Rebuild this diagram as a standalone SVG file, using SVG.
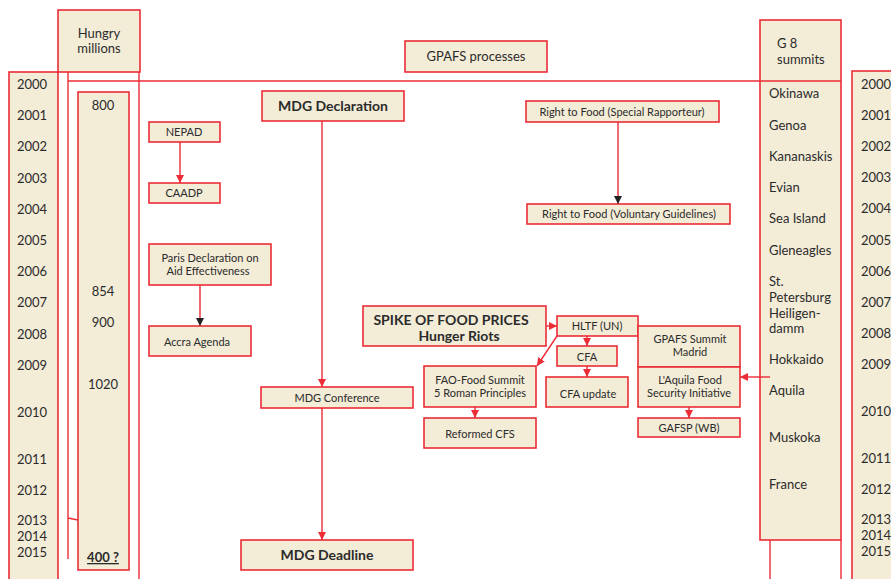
<svg xmlns="http://www.w3.org/2000/svg" width="891" height="579" viewBox="0 0 891 579">
<defs>
<style>
.b{fill:#F3ECD7;stroke:#EC2C36;stroke-width:1.6}
.l{fill:none;stroke:#EC2C36;stroke-width:1.4}
text{font-family:Lato,"Open Sans","Liberation Sans",sans-serif;fill:#2b2b2b;font-size:11px}
.y{font-size:13px}
.g{font-size:13px}
.h{font-size:13px}
.bd{font-weight:bold;font-size:14px}
.m{text-anchor:middle}
</style>
<marker id="ar" viewBox="0 0 10 10" refX="10" refY="5" markerWidth="8" markerHeight="8" markerUnits="userSpaceOnUse" orient="auto"><path d="M0,0L10,5L0,10z" fill="#EC2C36"/></marker>
<marker id="ak" viewBox="0 0 10 10" refX="10" refY="5" markerWidth="8" markerHeight="8" markerUnits="userSpaceOnUse" orient="auto"><path d="M0,0L10,5L0,10z" fill="#222"/></marker>
</defs>

<g id="frame">
<rect class="b" x="9" y="72" width="49" height="520"/>
<rect class="b" x="58" y="10" width="82" height="62"/>
<line class="l" x1="68" y1="72" x2="68" y2="559"/>
<line class="l" x1="139" y1="72" x2="139" y2="579"/>
<line class="l" x1="68" y1="81" x2="760" y2="81"/>
<line class="l" x1="68" y1="518" x2="78" y2="520"/>
<rect class="b" x="78" y="92" width="51" height="478"/>
<rect class="b" x="760" y="20" width="81" height="520"/>
<line class="l" x1="760" y1="81" x2="841" y2="81"/>
<line class="l" x1="770" y1="540" x2="770" y2="579"/>
<line class="l" x1="841" y1="540" x2="841" y2="579"/>
<rect class="b" x="852" y="71" width="50" height="520"/>
</g>

<g id="years-left" class="y">
<text class="y" x="17" y="89">2000</text>
<text class="y" x="17" y="120">2001</text>
<text class="y" x="17" y="151">2002</text>
<text class="y" x="17" y="183">2003</text>
<text class="y" x="17" y="214">2004</text>
<text class="y" x="17" y="245">2005</text>
<text class="y" x="17" y="276">2006</text>
<text class="y" x="17" y="307">2007</text>
<text class="y" x="17" y="339">2008</text>
<text class="y" x="17" y="370">2009</text>
<text class="y" x="17" y="417">2010</text>
<text class="y" x="17" y="464">2011</text>
<text class="y" x="17" y="495">2012</text>
<text class="y" x="17" y="525">2013</text>
<text class="y" x="17" y="541">2014</text>
<text class="y" x="17" y="557">2015</text>
</g>

<g id="years-right">
<text class="y" x="861" y="89">2000</text>
<text class="y" x="861" y="120">2001</text>
<text class="y" x="861" y="151">2002</text>
<text class="y" x="861" y="182">2003</text>
<text class="y" x="861" y="213">2004</text>
<text class="y" x="861" y="245">2005</text>
<text class="y" x="861" y="276">2006</text>
<text class="y" x="861" y="307">2007</text>
<text class="y" x="861" y="338">2008</text>
<text class="y" x="861" y="369">2009</text>
<text class="y" x="861" y="416">2010</text>
<text class="y" x="861" y="463">2011</text>
<text class="y" x="861" y="494">2012</text>
<text class="y" x="861" y="524">2013</text>
<text class="y" x="861" y="540">2014</text>
<text class="y" x="861" y="556">2015</text>
</g>

<g id="hungry">
<text class="h m" x="99" y="38">Hungry</text>
<text class="h m" x="99" y="53">millions</text>
<text class="y m" x="103" y="110">800</text>
<text class="y m" x="103" y="296">854</text>
<text class="y m" x="103" y="327">900</text>
<text class="y m" x="103" y="389">1020</text>
<text class="y m" x="103" y="562" font-weight="bold" text-decoration="underline">400 ?</text>
</g>

<g id="g8">
<text class="g" x="777" y="48">G 8</text>
<text class="g" x="777" y="64">summits</text>
<text class="g" x="769" y="98">Okinawa</text>
<text class="g" x="769" y="130">Genoa</text>
<text class="g" x="769" y="161">Kananaskis</text>
<text class="g" x="769" y="192">Evian</text>
<text class="g" x="769" y="223">Sea Island</text>
<text class="g" x="769" y="255">Gleneagles</text>
<text class="g" x="769" y="286">St.</text>
<text class="g" x="769" y="302">Petersburg</text>
<text class="g" x="769" y="318">Heiligen-</text>
<text class="g" x="769" y="333">damm</text>
<text class="g" x="769" y="364">Hokkaido</text>
<text class="g" x="769" y="395">Aquila</text>
<text class="g" x="769" y="442">Muskoka</text>
<text class="g" x="769" y="489">France</text>
</g>

<g id="gpafs-processes"><rect class="b" x="405" y="41" width="142" height="31"/><text class="h m" x="476" y="61">GPAFS  processes</text></g>
<g id="mdg-declaration"><rect class="b" x="262" y="91" width="142" height="30"/><text class="bd m" x="333" y="111">MDG Declaration</text></g>
<g id="mdg-conference"><rect class="b" x="261" y="387" width="152" height="21"/><text class="m" x="337" y="402">MDG Conference</text></g>
<g id="mdg-deadline"><rect class="b" x="241" y="540" width="172" height="30"/><text class="bd m" x="327" y="560">MDG Deadline</text></g>
<g id="nepad"><rect class="b" x="149" y="122" width="71" height="20"/><text class="m" x="184" y="136">NEPAD</text></g>
<g id="caadp"><rect class="b" x="149" y="183" width="71" height="20"/><text class="m" x="184" y="197">CAADP</text></g>
<g id="paris"><rect class="b" x="149" y="244" width="122" height="41"/><text class="m" x="210" y="262">Paris Declaration on</text><text class="m" x="208" y="275">Aid  Effectiveness</text></g>
<g id="accra"><rect class="b" x="149" y="326" width="102" height="30"/><text class="m" x="197" y="346">Accra Agenda</text></g>
<g id="rtf-sr"><rect class="b" x="526" y="101" width="193" height="21"/><text class="m" x="622" y="116">Right to Food (Special Rapporteur)</text></g>
<g id="rtf-vg"><rect class="b" x="527" y="204" width="203" height="20"/><text class="m" x="629" y="218">Right to Food (Voluntary Guidelines)</text></g>
<g id="spike"><rect class="b" x="363" y="306" width="183" height="40"/><text class="bd m" x="451" y="325" font-size="13">SPIKE OF FOOD PRICES</text><text class="bd m" x="459" y="341" font-size="13">Hunger Riots</text></g>
<g id="hltf"><rect class="b" x="557" y="316" width="81" height="20"/><text class="m" x="597" y="330">HLTF  (UN)</text></g>
<g id="gpafs-summit"><rect class="b" x="638" y="326" width="102" height="41"/><text class="m" x="690" y="343">GPAFS  Summit</text><text class="m" x="690" y="356">Madrid</text></g>
<g id="aquila-init"><rect class="b" x="638" y="367" width="102" height="40"/><text class="m" x="690" y="384">L'Aquila Food</text><text class="m" x="689" y="397">Security Initiative</text></g>
<g id="gafsp"><rect class="b" x="638" y="418" width="102" height="19"/><text class="m" x="689" y="432">GAFSP  (WB)</text></g>
<g id="cfa"><rect class="b" x="557" y="346" width="60" height="20"/><text class="m" x="587" y="361">CFA</text></g>
<g id="cfa-update"><rect class="b" x="546" y="377" width="82" height="30"/><text class="m" x="588" y="398">CFA update</text></g>
<g id="fao"><rect class="b" x="424" y="366" width="112" height="41"/><text class="m" x="480" y="384">FAO-Food Summit</text><text class="m" x="480" y="397">5 Roman Principles</text></g>
<g id="reformed-cfs"><rect class="b" x="424" y="418" width="112" height="30"/><text class="m" x="480" y="438">Reformed CFS</text></g>

<g id="connectors">
<line class="l" x1="322" y1="121" x2="322" y2="387" marker-end="url(#ar)"/>
<line class="l" x1="322" y1="408" x2="322" y2="540" marker-end="url(#ar)"/>
<line class="l" x1="180" y1="142" x2="180" y2="183" marker-end="url(#ar)"/>
<line class="l" x1="200" y1="285" x2="200" y2="326" marker-end="url(#ak)"/>
<line class="l" x1="618" y1="122" x2="618" y2="204" marker-end="url(#ak)"/>
<line class="l" x1="546" y1="326" x2="557" y2="326" marker-end="url(#ar)"/>
<line class="l" x1="587" y1="336" x2="587" y2="346" marker-end="url(#ar)"/>
<line class="l" x1="587" y1="366" x2="587" y2="377" marker-end="url(#ar)"/>
<line class="l" x1="557" y1="336" x2="537" y2="366" marker-end="url(#ar)"/>
<line class="l" x1="475" y1="407" x2="475" y2="418" marker-end="url(#ar)"/>
<line class="l" x1="689" y1="407" x2="689" y2="418" marker-end="url(#ar)"/>
<line class="l" x1="770" y1="377" x2="740" y2="377" marker-end="url(#ar)"/>
</g>
</svg>
